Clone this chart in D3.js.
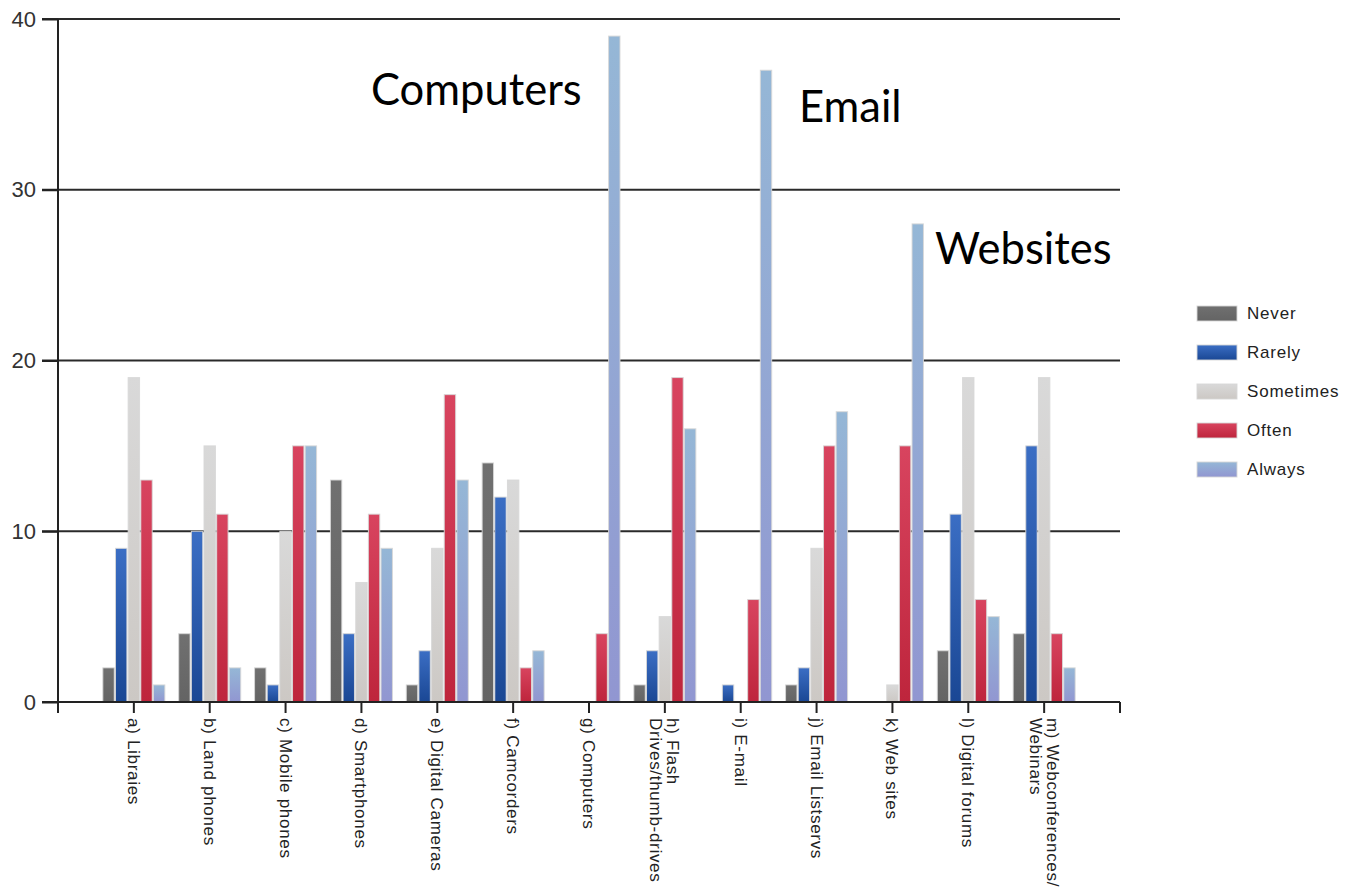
<!DOCTYPE html>
<html>
<head>
<meta charset="utf-8">
<script src="https://cdn.jsdelivr.net/npm/d3@7"></script>
<style>
  html, body { margin: 0; padding: 0; background: #ffffff; }
  #idMyCanvas { width: 1352px; height: 894px; }
</style>
</head>
<body>
<div id="idMyCanvas"></div>
<script>
// Data
// -------------------
let categories = [
   "a) Libraies", "b) Land phones", "c) Mobile phones", "d) Smartphones",
   "e) Digital Cameras", "f) Camcorders", "g) Computers",
   "h) Flash|Drives/thumb-drives", "i) E-mail", "j) Email Listservs",
   "k) Web sites", "l) Digital forums", "m) Webconferences/|Webinars"
];
let series_names = ["Never", "Rarely", "Sometimes", "Often", "Always"];

let never_vals     = [2, 4, 2, 13, 1, 14, 0, 1, 0, 1, 0, 3, 4];
let rarely_vals    = [9, 10, 1, 4, 3, 12, 0, 3, 1, 2, 0, 11, 15];
let sometimes_vals = [19, 15, 10, 7, 9, 13, 0, 5, 0, 9, 1, 19, 19];
let often_vals     = [13, 11, 15, 11, 18, 2, 4, 19, 6, 15, 15, 6, 4];
let always_vals    = [1, 2, 15, 9, 13, 3, 39, 16, 37, 17, 28, 5, 2];

let y_ticks = [0, 10, 20, 30, 40];

let notes = [
   { text: "Computers", cat: 6 },
   { text: "Email", cat: 8 },
   { text: "Websites", cat: 10 }
];
// -------------------

let series_vals = [never_vals, rarely_vals, sometimes_vals, often_vals, always_vals];

let container_id = "idMyCanvas";
let canvas_xn = 1352;
let canvas_yn = 894;

let svg_obj = d3.select("#" + container_id)
                .append("svg")
                  .attr("viewBox", [0, 0, canvas_xn, canvas_yn].join(" "))
                  .attr("width", canvas_xn)
                  .attr("height", canvas_yn)
                  .attr("xmlns", "http://www.w3.org/2000/svg");

let plot_x0 = 58;   // px, y axis
let plot_x1 = 1120; // px, end of x axis
let plot_y0 = 702;  // px, value 0
let plot_y1 = 19;   // px, value 40
let label_font = "'Liberation Sans', Arial, sans-serif";

let step = (plot_x1 - plot_x0) / (categories.length + 1);

let x_scale = d3.scalePoint()
   .domain(d3.range(categories.length))
   .range([plot_x0 + step, plot_x1 - step]);

let x_inner = d3.scaleBand()
   .domain(series_names)
   .range([-31, 31])
   .paddingInner(0.1);

let y_scale = d3.scaleLinear()
   .domain([0, 40])
   .range([plot_y0, plot_y1]);


// Gradients
// -------------------
let grad_stops = {
   "Never":     ["#707070", "#646464"],
   "Rarely":    ["#3b6ec4", "#1a4794"],
   "Sometimes": ["#d9d9d9", "#ccc8c4"],
   "Often":     ["#d8445f", "#be253c"],
   "Always":    ["#95b7d6", "#9196d1"]
};
let defs = svg_obj.append("defs");
series_names.forEach(function (s, i) {
   let g = defs.append("linearGradient")
      .attr("id", "grad" + i)
      .attr("x1", 0).attr("y1", 0)
      .attr("x2", 0).attr("y2", 1);
   g.append("stop").attr("offset", "0%").attr("stop-color", grad_stops[s][0]);
   g.append("stop").attr("offset", "100%").attr("stop-color", grad_stops[s][1]);
});
// -------------------


// Grid lines
// -------------------
svg_obj.append("g")
   .selectAll("line")
   .data(y_ticks.filter(d => d > 0))
   .join("line")
      .attr("x1", plot_x0 - 16)
      .attr("x2", plot_x1)
      .attr("y1", d => y_scale(d))
      .attr("y2", d => y_scale(d))
      .attr("stroke", "#2a2a2a")
      .attr("stroke-width", 2);
// -------------------


// Bars
// -------------------
let groups = svg_obj.append("g")
   .selectAll("g")
   .data(series_names)
   .join("g")
      .attr("fill", (d, i) => "url(#grad" + i + ")");

groups.selectAll("rect")
   .data((s, si) => series_vals[si].map((v, ci) => ({ s: s, v: v, c: ci })))
   .join("rect")
      .filter(d => d.v > 0)
      .attr("x", d => x_scale(d.c) + x_inner(d.s))
      .attr("y", d => y_scale(d.v))
      .attr("width", x_inner.bandwidth())
      .attr("height", d => plot_y0 - y_scale(d.v))
      .attr("stroke", "rgba(215, 215, 215, 0.9)")
      .attr("stroke-width", 1);
// -------------------


// Axes
// -------------------
let y_axis = svg_obj.append("g")
   .attr("transform", "translate(" + plot_x0 + ",0)")
   .call(d3.axisLeft(y_scale).tickValues(y_ticks).tickSize(16).tickPadding(6));
y_axis.select(".domain").attr("stroke", "#222").attr("stroke-width", 2)
   .attr("d", "M0," + plot_y1 + "V" + (plot_y0 + 11));
y_axis.selectAll(".tick line").attr("stroke", "#222").attr("stroke-width", 2);
y_axis.selectAll(".tick text")
   .attr("font-family", label_font)
   .attr("font-size", 22)
   .attr("fill", "#333");

let x_axis = svg_obj.append("g");
x_axis.append("line")
   .attr("x1", plot_x0 - 16)
   .attr("x2", plot_x1)
   .attr("y1", plot_y0)
   .attr("y2", plot_y0)
   .attr("stroke", "#222")
   .attr("stroke-width", 2);

x_axis.selectAll("line.tick")
   .data(d3.range(categories.length).concat([categories.length]))
   .join("line")
      .attr("class", "tick")
      .attr("x1", d => d < categories.length ? x_scale(d) : plot_x1)
      .attr("x2", d => d < categories.length ? x_scale(d) : plot_x1)
      .attr("y1", plot_y0)
      .attr("y2", plot_y0 + 11)
      .attr("stroke", "#222")
      .attr("stroke-width", 2);

let x_labels = x_axis.selectAll("text")
   .data(categories)
   .join("text")
      .attr("transform", (d, i) => "translate(" + x_scale(i) + "," + (plot_y0 + 16) + ") rotate(90)")
      .attr("font-family", label_font)
      .attr("font-size", 17)
      .attr("letter-spacing", 0.7)
      .attr("fill", "#222");

x_labels.each(function (d) {
   let parts = d.split("|");
   let t = d3.select(this);
   let first_dy = parts.length > 1 ? -0.15 : 0.35;
   parts.forEach(function (p, k) {
      t.append("tspan")
         .attr("x", 0)
         .attr("dy", (k === 0 ? first_dy : 1.0) + "em")
         .text(p);
   });
});
// -------------------


// Legend
// -------------------
let legend = svg_obj.append("g")
   .attr("transform", "translate(1197,306)");

let legend_rows = legend.selectAll("g")
   .data(series_names)
   .join("g")
      .attr("transform", (d, i) => "translate(0," + (i * 39) + ")");

legend_rows.append("rect")
   .attr("width", 40)
   .attr("height", 15)
   .attr("fill", (d, i) => "url(#grad" + i + ")")
   .attr("stroke", "rgba(215, 215, 215, 0.9)")
   .attr("stroke-width", 1);

legend_rows.append("text")
   .attr("x", 50)
   .attr("y", 13)
   .attr("font-family", label_font)
   .attr("font-size", 17)
   .attr("letter-spacing", 0.8)
   .attr("fill", "#222")
   .text(d => d);
// -------------------


// Annotations
// -------------------
let note_pos = [
   { x: 371, y: 105 },
   { x: 799, y: 122 },
   { x: 935, y: 264 }
];
svg_obj.append("g")
   .selectAll("text")
   .data(notes)
   .join("text")
      .attr("x", (d, i) => note_pos[i].x)
      .attr("y", (d, i) => note_pos[i].y)
      .attr("font-family", "Lato, 'Open Sans', sans-serif")
      .attr("font-size", 43.5)
      .attr("fill", "#000")
      .text(d => d.text);
// -------------------
</script>
</body>
</html>
